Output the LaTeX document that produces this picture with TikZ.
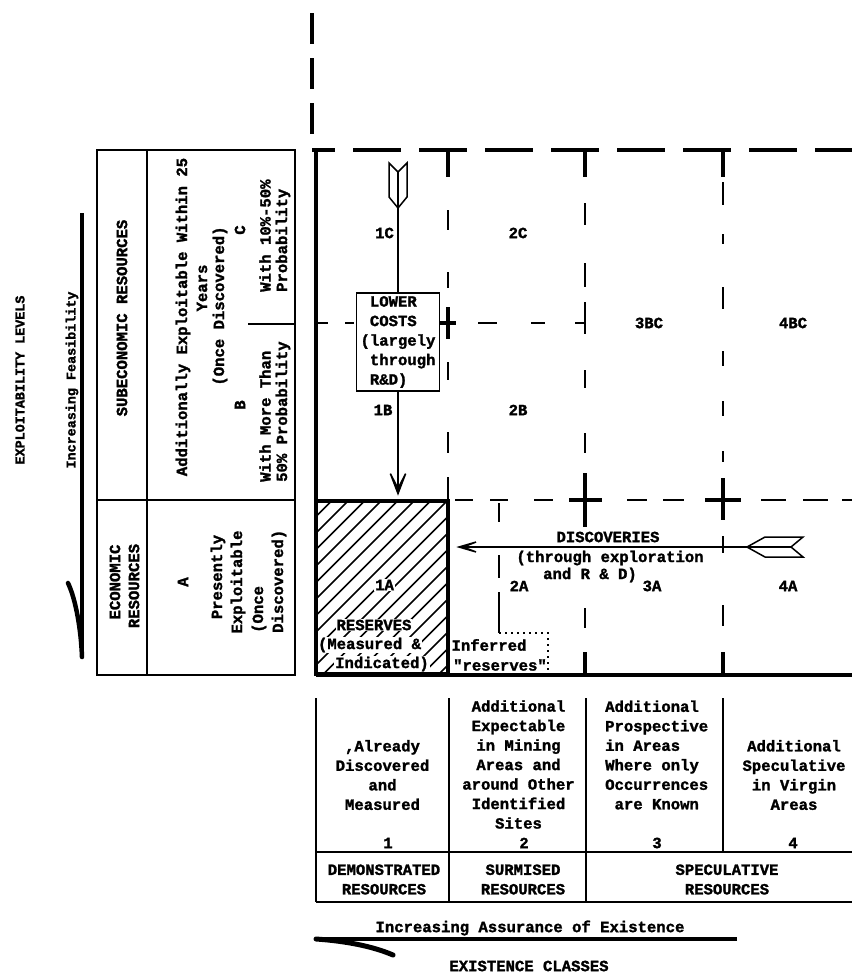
\documentclass[tikz,border=0pt]{standalone}
\usepackage{fontspec}
\setmonofont{Liberation Mono}[BoldFeatures={FakeBold=1.6}]
\usetikzlibrary{arrows.meta}
\begin{document}
\begin{tikzpicture}[x=1pt,y=-1pt,
  every node/.style={inner sep=0pt, font=\ttfamily\bfseries\fontsize{15.6}{19.5}\selectfont},
  small/.style={font=\ttfamily\bfseries\fontsize{13.4}{16}\selectfont},
  vert/.style={rotate=90},
  heavy/.style={line width=3.6pt},
  frame/.style={line width=4.6pt},
  rule/.style={line width=2pt},
  topdash/.style={line width=4pt, dash pattern=on 48pt off 18pt},
  gridv/.style={line width=2.5pt},
  gridh/.style={line width=2.8pt},
  stub/.style={line width=3.4pt},
  hatch/.style={line width=1.6pt},
  shaft/.style={line width=1.5pt},
  feather/.style={line width=1.5pt, line join=miter},
  dotline/.style={line width=1.8pt, dash pattern=on 1.8pt off 4.2pt},
  headV/.style={-{Stealth[length=34pt,width=26pt,inset=25pt]}},
  headH/.style={-{Stealth[length=36pt,width=21pt,inset=27pt]}},
  blank/.style={fill=white, inner sep=1pt},
]
\useasboundingbox (0,0) rectangle (852,975);

% ---------- upward continuation of the frame
\draw[heavy, dash pattern=on 31pt off 14pt] (312,13) -- (312,136);

% ---------- frame of the resource field
\draw[topdash, dash phase=25pt] (312,150) -- (852,150);
\draw[heavy] (316,148) -- (316,675);
\draw[line width=4.2pt] (316,675) -- (852,675);

% ---------- column boundaries (dashed, with T heads and crosses)
\foreach \a/\b in {210/230,272/288,362/380,432/453,477/500}
  \draw[gridv] (448,\a) -- (448,\b);
\foreach \a/\b in {203/225,263/287,302/334,370/388,433/453,608/628}
  \draw[gridv] (585,\a) -- (585,\b);
\foreach \a/\b in {182/205,234/244,287/309,351/366,401/416,451/462,536/553,605/626}
  \draw[gridv] (723,\a) -- (723,\b);
\foreach \x in {448,585,723} \draw[stub] (\x,150) -- (\x,177);
\foreach \x in {585,723} \draw[stub] (\x,652) -- (\x,675);

% ---------- level boundaries
\foreach \a/\b in {316/328,345/354,478/497,531/545,575/585}
  \draw[gridh] (\a,323) -- (\b,323);
\foreach \a/\b in {455/473,490/508,534/553,627/647,663/684,761/786,803/828,842/852}
  \draw[gridh] (\a,500) -- (\b,500);

% ---------- crossings
\draw[stub] (440,323) -- (456,323) (448,307) -- (448,339);
\draw[stub] (569,500) -- (602,500) (585,473) -- (585,527);
\draw[stub] (705,500) -- (741,500) (723,478) -- (723,520);

% ---------- reserves: hatched block 1A
\begin{scope}
  \clip (316,500) rectangle (448,675);
  \foreach \i in {0,...,19}
    \draw[hatch] ({141+16.5*\i},675) -- ++(175,-175);
\end{scope}
\node[blank] (t1A) at (384.5,585) {1A};
\node[blank] (rsv1) at (374,625) {RESERVES};
\node[blank] (rsv2) at (369.5,645) {(Measured \&};
\node[blank] (rsv3) at (382,664) {Indicated)};
\node[draw, frame, minimum width=132pt, minimum height=173pt] (res) at (382,587.5) {};

% ---------- inferred reserves outline
\coordinate (infTop) at (499,503);
\coordinate (infCorner) at (499,633);
\coordinate (infEnd) at (548,633);
\coordinate (infFoot) at (548,673);
\foreach \a/\b in {503/522,555/578,592/633}
  \draw[gridv] (499,\a) -- (499,\b);
\draw[dotline] (infCorner) -- (infEnd) -- (infFoot);
\node (inf1) at (489,645) {Inferred};
\node (inf2) at (500,665) {"reserves"};

% ---------- cell labels
\node (c1C) at (384.5,233) {1C};
\node (c2C) at (518,233) {2C};
\node (c3BC) at (649,323) {3BC};
\node (c4BC) at (793,323) {4BC};
\node (c1B) at (383,410) {1B};
\node (c2B) at (518,410) {2B};
\node (c2A) at (519,586) {2A};
\node (c3A) at (652,586) {3A};
\node (c4A) at (788,586) {4A};

% ---------- lower costs (vertical transfer)
\node[draw, fill=white, line width=1.6pt, align=left, minimum width=83pt, minimum height=98pt]
  (lowcost) at (398,342)
  {\hspace*{9.4pt}LOWER\\\hspace*{9.4pt}COSTS\\(largely\\\hspace*{9.4pt}through\\\hspace*{9.4pt}R\&D)};
\coordinate (vtail) at (398,208);
\draw[feather] (vtail) -- ++(-9,-11) -- ++(0,-34) -- ++(9,9) -- ++(9,-9) -- ++(0,34) -- cycle;
\draw[feather] (vtail) -- ++(0,-36);
\draw[shaft] (vtail) -- (lowcost.north);
\draw[shaft, headV, shorten >=3pt] (lowcost.south) -- (lowcost.south |- res.north);

% ---------- discoveries (horizontal transfer)
\node[blank] (disc1) at (608,537) {DISCOVERIES};
\node[blank] (disc2) at (610,558) {(through exploration};
\node[blank] (disc3) at (590,575) {and R \& D)};
\coordinate (htail) at (747,547);
\draw[feather] (htail) -- ++(18,-10) -- ++(38,0) -- ++(-12,10) -- ++(12,10) -- ++(-38,0) -- cycle;
\draw[feather] (htail) -- ++(44,0);
\draw[shaft, headH, shorten >=6pt] (htail) -- (res.east |- htail);

% ---------- exploitability levels table
\draw[rule] (97,150) rectangle (295,675);
\draw[rule] (147,150) -- (147,675);
\draw[rule] (97,500) -- (295,500);
\draw[rule] (248,324) -- (295,324);
\node[vert] (subeco) at (122,318) {SUBECONOMIC RESOURCES};
\node[vert] (eco1) at (115,582) {ECONOMIC};
\node[vert] (eco2) at (134,586) {RESOURCES};
\node[vert] (addl) at (183,317) {Additionally Exploitable Within 25};
\node[vert] (years) at (202,288) {Years};
\node[vert] (once) at (220,306) {(Once Discovered)};
\node[vert] (lvB) at (240,405) {B};
\node[vert] (lvC) at (240,230) {C};
\node[vert, anchor=west] (b1) at (265,482) {With More Than};
\node[vert, anchor=west] (b2) at (283,482) {50\% Probability};
\node[vert, anchor=west] (c1) at (265,292) {With 10\%-50\%};
\node[vert, anchor=west] (c2) at (283,292) {Probability};
\node[vert] (lvA) at (183,582) {A};
\node[vert] (pres1) at (218,577) {Presently};
\node[vert] (pres2) at (238,582) {Exploitable};
\node[vert, anchor=west] (pres3) at (259,633) {(Once};
\node[vert, anchor=west] (pres4) at (279,633) {Discovered)};

\node[vert, small] (expl) at (20,380) {EXPLOITABILITY LEVELS};
\node[vert, small] (feas) at (72,380) {Increasing Feasibility};
\coordinate (feasTop) at (82,213);
\coordinate (feasTip) at (82,657);
\draw[heavy] (feasTop) -- (feasTip);
\draw[line width=4.5pt, line cap=round] (feasTip) .. controls (81,630) and (76,600) .. (68,583);

% ---------- existence classes table
\draw[rule] (316,698) -- (316,902);
\draw[rule] (449,698) -- (449,902);
\draw[rule] (586,698) -- (586,902);
\draw[rule] (723,698) -- (723,852);
\draw[rule] (316,852) -- (852,852);
\draw[rule] (316,902) -- (852,902);

\node[align=center] (k1) at (382.5,775) {,Already\\Discovered\\and\\Measured};
\node[align=center] (k2) at (518.5,764.5) {Additional\\Expectable\\in Mining\\Areas and\\around Other\\Identified\\Sites};
\node[align=left, anchor=west] (k3) at (605,755) {Additional\\Prospective\\in Areas\\Where only\\Occurrences\\\hspace*{9.4pt}are Known};
\node[align=center] (k4) at (794,775) {Additional\\Speculative\\in Virgin\\Areas};
\node (n1) at (388,843) {1};
\node (n2) at (524,843) {2};
\node (n3) at (657,843) {3};
\node (n4) at (793,843) {4};
\node[align=center] (dem) at (384,879.5) {DEMONSTRATED\\RESOURCES};
\node[align=center] (sur) at (523,879.5) {SURMISED\\RESOURCES};
\node[align=center] (spe) at (727,879.5) {SPECULATIVE\\RESOURCES};

\node (assur) at (530,928) {Increasing Assurance of Existence};
\coordinate (assRight) at (737,939);
\coordinate (assTip) at (316,939);
\draw[heavy] (assRight) -- (assTip);
\draw[line width=5pt, line cap=round] (assTip) .. controls (345,941) and (372,946) .. (393,955);
\node (exist) at (529,966) {EXISTENCE CLASSES};
\end{tikzpicture}
\end{document}
